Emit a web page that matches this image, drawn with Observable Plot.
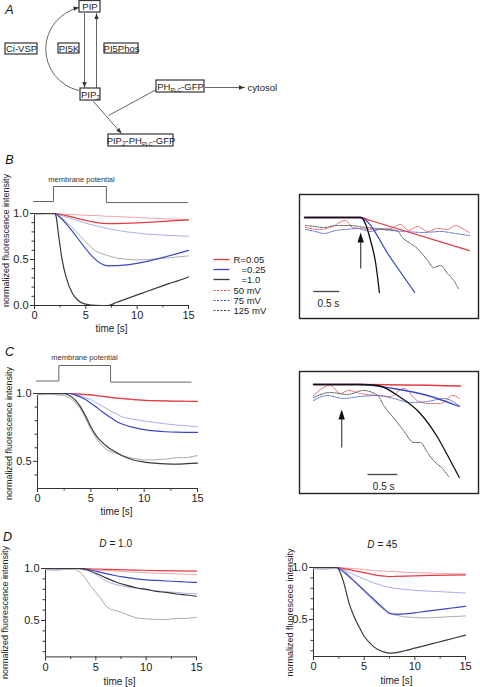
<!DOCTYPE html>
<html><head><meta charset="utf-8">
<script src="https://cdn.jsdelivr.net/npm/d3@7"></script>
<script src="https://cdn.jsdelivr.net/npm/@observablehq/plot@0.6"></script>
<style>
html,body{margin:0;padding:0;background:#fff;}
#fig{position:relative;width:480px;height:687px;overflow:hidden;background:#fff;}
#fig svg{position:absolute;overflow:visible;}
</style></head><body><div id="fig"></div>
<script>
// ===================== DATA =====================
// Panel B (simulation, R values; experiment, mV)
const B_R005_t = [0,2,2.5,7.2,15];
const B_R005_v = [1,1,0.99,0.89,0.93];
const B_R025_t = [0,2,2.3,7.2,15];
const B_R025_v = [1,1,0.975,0.43,0.6];
const B_R10_t = [0,2,2.1,2.35,2.7,3.1,3.7,4.2,4.8,5.5,6.5,7.2,8,9,10,11,12,13,14,15];
const B_R10_v = [1,1,0.97,0.76,0.49,0.3,0.13,0.06,0.02,0.005,0,0,0.035,0.075,0.115,0.155,0.195,0.235,0.27,0.31];
const B_50_t = [0,1,2,3,4,5,6,7,8,9,10,11,12,13,14,15];
const B_50_v = [0.99,1.0,0.998,0.99,0.987,0.98,0.978,0.97,0.968,0.96,0.958,0.95,0.948,0.94,0.938,0.932];
const B_75_t = [0,1,2,3,4,5,6,7,8,9,10,11,12,13,14,15];
const B_75_v = [1.0,0.995,1.0,0.965,0.93,0.895,0.865,0.84,0.818,0.8,0.788,0.775,0.77,0.762,0.758,0.752];
const B_125_t = [0,1,2,2.5,3,3.5,4,4.5,5,5.5,6,6.5,7,7.5,8,9,10,11,12,13,14,15];
const B_125_v = [0.99,1.0,0.995,0.97,0.92,0.865,0.81,0.75,0.69,0.635,0.59,0.565,0.548,0.53,0.515,0.502,0.495,0.5,0.508,0.517,0.528,0.54];
const B_membrane_t = [-0.1,1.85,1.85,7.0,7.0,14.9];
const B_membrane_v = [0,0,1,1,-0.07,-0.07];

// Panel C
const C_R005_t = [0,3,4,5,6,7,8,9,10,11,12,13,14,15];
const C_R005_v = [1,1,0.995,0.99,0.98,0.97,0.962,0.955,0.95,0.947,0.945,0.944,0.943,0.942];
const C_R025_t = [0,3,3.5,4,4.5,5,5.5,6,6.5,7,7.5,8,9,10,11,12,13,15];
const C_R025_v = [1,1,0.99,0.975,0.955,0.928,0.9,0.87,0.842,0.815,0.79,0.773,0.75,0.734,0.724,0.718,0.715,0.713];
const C_R10_t = [0,2.5,3,3.5,4,4.5,5,5.5,6,6.5,7,8,9,10,11,12,13,14,15];
const C_R10_v = [1,1,0.985,0.955,0.905,0.835,0.755,0.69,0.645,0.61,0.583,0.54,0.51,0.495,0.487,0.482,0.48,0.483,0.487];
const C_50_t = [0,1,2,3,4,5,6,7,8,9,10,11,12,13,14,15];
const C_50_v = [0.995,1,0.998,1,0.993,0.987,0.978,0.97,0.962,0.955,0.951,0.946,0.945,0.941,0.943,0.94];
const C_75_t = [0,1,2,3,4,5,6,7,8,9,10,11,12,13,14,15];
const C_75_v = [0.99,0.995,0.99,1,0.985,0.955,0.91,0.865,0.825,0.81,0.797,0.787,0.776,0.768,0.762,0.755];
const C_125_t = [0,1,2,2.5,3,3.5,4,4.5,5,5.5,6,6.5,7,7.5,8,9,10,11,12,13,14,15];
const C_125_v = [0.99,0.995,0.99,0.985,0.97,0.94,0.89,0.82,0.735,0.67,0.62,0.585,0.568,0.555,0.54,0.522,0.51,0.512,0.516,0.527,0.528,0.542];
const C_membrane_t = [-0.1,2.0,2.0,6.85,6.85,14.4];
const C_membrane_v = [0,0,1,1,-0.07,-0.07];

// Panel D, D = 1.0
const D1_R005_t = [0,3,5,7,9,11,13,15];
const D1_R005_v = [1,1,0.995,0.99,0.985,0.98,0.977,0.975];
const D1_R025_t = [0,3.5,4,5,6,7,8,9,10,11,12,13,14,15];
const D1_R025_v = [1,1,0.995,0.975,0.95,0.93,0.915,0.9,0.89,0.885,0.88,0.875,0.87,0.866];
const D1_R10_t = [0,3.5,4,5,6,7,8,9,10,11,12,13,14,15];
const D1_R10_v = [1,1,0.99,0.955,0.91,0.87,0.84,0.815,0.8,0.78,0.77,0.755,0.745,0.733];
const D1_50_t = [0,1,2,3,4,5,6,7,8,9,10,11,12,13,14,15];
const D1_50_v = [0.99,0.995,1,1,0.992,0.985,0.98,0.975,0.968,0.965,0.96,0.955,0.952,0.948,0.945,0.943];
const D1_75_t = [0,1,2,3,4,5,5.5,6,6.5,7,8,9,10,11,12,13,14,15];
const D1_75_v = [0.99,0.985,0.995,1,0.985,0.945,0.91,0.88,0.86,0.845,0.825,0.81,0.795,0.785,0.775,0.77,0.76,0.757];
const D1_125_t = [0,1,2,3,3.5,4,4.5,5,5.5,6,6.5,7,7.5,8,9,10,11,12,13,14,15];
const D1_125_v = [0.99,0.985,0.99,0.99,0.96,0.9,0.83,0.77,0.71,0.64,0.605,0.595,0.58,0.56,0.525,0.515,0.51,0.51,0.52,0.52,0.53];

// Panel D, D = 45
const D45_R005_t = [0,2.3,3,4,5,6,7,7.5,8,10,12,15];
const D45_R005_v = [1,1,0.99,0.97,0.95,0.93,0.917,0.913,0.914,0.92,0.925,0.93];
const D45_R025_t = [0,2.3,2.6,3,4,5,6,7,7.5,8,9,10,11,12,13,14,15];
const D45_R025_v = [1,1,0.985,0.955,0.87,0.78,0.69,0.6,0.56,0.553,0.555,0.565,0.578,0.59,0.603,0.615,0.627];
const D45_R10_t = [0,2.3,2.6,3,3.5,4,4.5,5,5.5,6,6.5,7,7.5,8,9,10,11,12,13,14,15];
const D45_R10_v = [1,1,0.96,0.85,0.66,0.53,0.43,0.34,0.28,0.235,0.205,0.187,0.178,0.18,0.2,0.225,0.25,0.275,0.3,0.325,0.35];
const D45_50_t = [0,1,2,3,4,5,6,7,8,9,10,11,12,13,14,15];
const D45_50_v = [0.99,0.995,1,0.995,0.99,0.98,0.97,0.965,0.96,0.955,0.95,0.948,0.945,0.942,0.94,0.938];
const D45_75_t = [0,1,2,3,4,5,6,7,8,9,10,11,12,13,14,15];
const D45_75_v = [0.99,0.985,0.995,0.98,0.93,0.89,0.85,0.82,0.8,0.79,0.78,0.775,0.77,0.765,0.76,0.755];
const D45_125_t = [0,1,2,2.5,3,3.5,4,5,6,7,7.5,8,9,10,11,12,13,14,15];
const D45_125_v = [0.99,0.985,0.99,0.985,0.97,0.93,0.87,0.77,0.67,0.59,0.56,0.545,0.525,0.52,0.515,0.52,0.525,0.53,0.535];

// Inset B (time in s, zoomed onset)
const IB_R10_t = [0,1.08,1.17,1.27,1.37,1.44];
const IB_R10_v = [1,1,0.988,0.954,0.908,0.85];
const IB_R025_t = [0,1.08,1.13,1.65,2.12];
const IB_R025_v = [1,1,0.998,0.92,0.85];
const IB_R005_t = [0,1.08,1.27,3.17];
const IB_R005_v = [1,1,0.994,0.934];
const IB_50_t = [0.02,0.31,0.5,0.79,0.92,1.08,1.37,1.65,1.85,2.0,2.17,2.37,2.56,2.75,2.9,3.04,3.17];
const IB_50_v = [0.98,0.976,0.98,0.994,0.98,0.978,0.976,0.978,0.986,0.974,0.982,0.972,0.978,0.976,0.984,0.978,0.97];
const IB_75_t = [0.02,0.21,0.37,0.6,0.79,1.02,1.27,1.46,1.65,1.94,2.29,2.62,2.9,3.17];
const IB_75_v = [0.976,0.972,0.968,0.974,0.976,0.978,0.972,0.976,0.974,0.972,0.97,0.972,0.968,0.964];
const IB_125_t = [0.02,0.21,0.37,0.6,0.88,1.17,1.4,1.77,1.9,2.04,2.17,2.37,2.48,2.62,2.75,2.87,2.96];
const IB_125_v = [0.984,0.982,0.98,0.984,0.984,0.98,0.978,0.974,0.958,0.948,0.938,0.914,0.9,0.904,0.888,0.874,0.858];
const IB_arrow = {t: 1.08, tip: 0.97, tail: 0.898};
const IB_bar = {t0: 0.17, v: 0.852, label: "0.5 s", lt: 0.46, lv: 0.828};

// Inset C
const IC_R10_t = [0,0.78,1.07,1.45,1.78,2.07,2.28,2.43];
const IC_R10_v = [1,1,0.998,0.974,0.942,0.894,0.848,0.814];
const IC_R025_t = [0,0.78,1.33,1.9,2.43];
const IC_R025_v = [1,1,0.992,0.978,0.956];
const IC_R005_t = [0,0.78,2.45];
const IC_R005_v = [1,1,0.997];
const IC_50_t = [0,0.28,0.45,0.58,0.78,1.07,1.28,1.5,1.73,1.9,2.12,2.32,2.43];
const IC_50_v = [0.978,0.998,0.982,0.988,0.982,0.978,0.976,0.992,0.968,0.962,0.962,0.978,0.972];
const IC_75_t = [0,0.23,0.5,0.78,1.07,1.33,1.62,1.9,2.17,2.43];
const IC_75_v = [0.968,0.978,0.972,0.976,0.978,0.972,0.964,0.966,0.972,0.958];
const IC_125_t = [0,0.28,0.57,0.83,1.07,1.17,1.33,1.5,1.67,1.78,1.9,2.0,2.15,2.25];
const IC_125_v = [0.974,0.984,0.98,0.988,0.978,0.958,0.934,0.908,0.884,0.884,0.864,0.848,0.832,0.816];
const IC_arrow = {t: 0.47, tip: 0.95, tail: 0.874};
const IC_bar = {t0: 0.9, v: 0.82, label: "0.5 s", lt: 1.17, lv: 0.796};

// Ticks
const xMajor = [0,5,10,15];
const xMinor = [2.5,7.5,12.5];
const B_yMajor = [0,0.5,1];
const B_yMinor = [0.1,0.2,0.3,0.4,0.6,0.7,0.8,0.9];
const C_yMajor = [0.5,1];
const C_yMinor = [0.4,0.6,0.7,0.8,0.9];
const D_yMajor = [0.5,1];
const D_yMinor = [0.2,0.3,0.4,0.6,0.7,0.8,0.9];

// Texts
const yTitle = "normalized fluorescence intensity";
const yTitleD45 = "normalized fluorescece intensity";
const xTitle = "time [s]";
const membraneLabel = "membrane potential";
const panelLetters = ["A","B","C","D"];
const dTitleValues = ["= 1.0", "= 45"];
const legendLabels = ["R=0.05", "=0.25", "=1.0", "50 mV", "75 mV", "125 mV"];
const diagramLabels = ["PIP", "Ci-VSP", "PI5K", "PI5Phos", "PIP_2_", "PH_PLC_-GFP", "PIP_2_-PH_PLC_-GFP"];
const cytosolLabel = "cytosol";

// ===================== STYLE / LAYOUT =====================
const FONT = '"Liberation Sans", Arial, Helvetica, sans-serif';
const RED = "#e23b40", BLUE = "#3a48c4", BLACK = "#3a3a3a";
const LRED = "#f3a4a8", LBLUE = "#a8b0ee", LGRAY = "#acacac";
const IRED = "#e65a5e", IBLUE = "#5566d8", IGRAY = "#555";
const legendColors = [RED, BLUE, BLACK, RED, BLUE, "#444"];
const legendDashed = [false,false,false,true,true,true];
const legendLayout = [[233,259],[241,269],[241,279],[233,290],[233,300],[233,310]];
const letterLayout = [[9,9],[9,159],[9,351],[7,536]];
const yTitleLayout = [[6,240],[9,433],[5,612],[290,612]];
const xTitleLayout = [[111,328],[116,511],[119,681],[396,680]];
const membraneLabelLayout = [[81,179],[84,357.5]];
const dTitleLayout = [[106,543.5,109],[374,544,377]];
const diagramBoxes = [[79,100,0.5,12],[5,37,43,54],[58,79,43,53],[104,138,43,53],[80,100,88,100],[156,204,80,92],[108,173,134,146]];
const diagramArrows = [[84,13,84,87],[96,87,96,13],[93,101,121,133],[205,87,244,87]];
const diagramArc = [78,90,78.5,7];
const diagramArcBend = 77;
const diagramLink = [156,89,108,115];
const cytosolLayout = [247,87];

const fig = document.getElementById("fig");
const pts = (t, v) => t.map((d, i) => ({t: d, v: v[i]}));
const deg = Math.PI / 180;

function place(svg, left, top) {
  svg.style.left = left + "px";
  svg.style.top = top + "px";
  fig.appendChild(svg);
}
const baseStyle = {fontFamily: FONT, fontSize: "11px", background: "transparent", overflow: "visible", color: "#222"};

function mainChart(c) {
  const svg = Plot.plot({
    width: c.width, height: c.height,
    marginLeft: c.x0 - c.left, marginRight: c.left + c.width - c.x1,
    marginTop: c.yTop - c.top, marginBottom: c.top + c.height - c.yBot,
    x: {domain: [0, 15], label: null},
    y: {domain: [c.yMin, 1], label: null},
    style: baseStyle,
    marks: [
      Plot.ruleX([0], {y1: c.yMin, y2: 1, stroke: "#333", strokeWidth: 1}),
      Plot.ruleY([c.yMin], {x1: 0, x2: 15, stroke: "#333", strokeWidth: 1}),
      Plot.axisY({ticks: c.yMajor, tickSize: 4, tickPadding: 2, tickFormat: ".1f", label: null, stroke: "#333"}),
      Plot.axisY({ticks: c.yMinor, tickSize: 2.5, tickFormat: () => "", label: null, stroke: "#333"}),
      Plot.axisX({ticks: xMajor, tickSize: 4, tickPadding: 2, label: null, stroke: "#333"}),
      Plot.axisX({ticks: xMinor, tickSize: 2.5, tickFormat: () => "", label: null, stroke: "#333"}),
      ...c.series.map(s => Plot.line(pts(s[0], s[1]), {x: "t", y: "v", stroke: s[2], strokeWidth: s[3], curve: s[4] || "linear"}))
    ]
  });
  place(svg, c.left, c.top);
}

function membraneChart(c) {
  const svg = Plot.plot({
    width: c.width, height: c.height,
    marginLeft: c.x0 - c.left, marginRight: c.left + c.width - c.x1,
    marginTop: c.yHigh - c.top, marginBottom: c.top + c.height - c.yBase,
    x: {domain: [0, 15], axis: null}, y: {domain: [0, 1], axis: null},
    style: baseStyle,
    marks: [Plot.line(pts(c.t, c.v), {x: "t", y: "v", stroke: "#666", strokeWidth: 1})]
  });
  place(svg, c.left, c.top);
}

function insetChart(c) {
  const lines = c.series.map(s => Plot.line(pts(s[0], s[1]), {x: "t", y: "v", stroke: s[2], strokeWidth: s[3], strokeDasharray: s[4], curve: "monotone-x"}));
  const svg = Plot.plot({
    width: c.width, height: c.height, margin: 0,
    x: {domain: c.xd, axis: null}, y: {domain: c.yd, axis: null},
    style: baseStyle,
    marks: [
      Plot.frame({stroke: "#222", strokeWidth: 1.4}),
      ...lines,
      Plot.link([c.arrow], {x1: "t", x2: "t", y1: "tail", y2: d => d.tip - 0.012, stroke: "#555", strokeWidth: 1.3}),
      Plot.vector([c.arrow], {x: "t", y: "tip", length: 10, r: 3.2, shape: "spike", anchor: "end", fill: "#111", stroke: "none"}),
      Plot.link([c.bar], {x1: "t0", x2: d => d.t0 + 0.5, y1: "v", y2: "v", stroke: "#444", strokeWidth: 1.3}),
      Plot.text([c.bar], {x: "lt", y: "lv", text: "label", fontSize: 10, fill: "#222"})
    ]
  });
  place(svg, c.left, c.top);
}

// ---- Panel B ----
membraneChart({left: 0, top: 180, width: 200, height: 25, x0: 34, x1: 188, yHigh: 186, yBase: 201, t: B_membrane_t, v: B_membrane_v});
mainChart({left: 0, top: 205, width: 200, height: 130, x0: 34, x1: 188, yTop: 213, yBot: 305, yMin: 0,
  yMajor: B_yMajor, yMinor: B_yMinor,
  series: [
    [B_50_t, B_50_v, LRED, 1], [B_75_t, B_75_v, LBLUE, 1], [B_125_t, B_125_v, LGRAY, 1],
    [B_R005_t, B_R005_v, RED, 1.2, "monotone-x"], [B_R025_t, B_R025_v, BLUE, 1.2, "monotone-x"], [B_R10_t, B_R10_v, BLACK, 1.2, "monotone-x"]
  ]});
insetChart({left: 299, top: 194, width: 179, height: 124, xd: [-0.096, 3.346], yd: [0.798, 1.046],
  arrow: IB_arrow, bar: IB_bar,
  series: [
    [IB_50_t, IB_50_v, IRED, 1, "1.3,1.2"], [IB_75_t, IB_75_v, IBLUE, 1, "1.3,1.2"], [IB_125_t, IB_125_v, IGRAY, 1, "1.3,1.2"],
    [IB_R005_t, IB_R005_v, RED, 1.3], [IB_R025_t, IB_R025_v, BLUE, 1.3], [IB_R10_t, IB_R10_v, "#111", 1.3]
  ]});

// ---- Panel C ----
membraneChart({left: 0, top: 360, width: 205, height: 25, x0: 37, x1: 197, yHigh: 365, yBase: 380.5, t: C_membrane_t, v: C_membrane_v});
mainChart({left: 0, top: 385, width: 205, height: 120, x0: 37, x1: 197, yTop: 393, yBot: 488, yMin: 0.3,
  yMajor: C_yMajor, yMinor: C_yMinor,
  series: [
    [C_50_t, C_50_v, LRED, 1], [C_75_t, C_75_v, LBLUE, 1], [C_125_t, C_125_v, LGRAY, 1],
    [C_R005_t, C_R005_v, RED, 1.2, "monotone-x"], [C_R025_t, C_R025_v, BLUE, 1.2, "monotone-x"], [C_R10_t, C_R10_v, BLACK, 1.2, "monotone-x"]
  ]});
insetChart({left: 299, top: 371, width: 179, height: 122, xd: [-0.233, 2.75], yd: [0.782, 1.026],
  arrow: IC_arrow, bar: IC_bar,
  series: [
    [IC_50_t, IC_50_v, IRED, 1, "1.3,1.2"], [IC_75_t, IC_75_v, IBLUE, 1, "1.3,1.2"], [IC_125_t, IC_125_v, IGRAY, 1, "1.3,1.2"],
    [IC_R005_t, IC_R005_v, RED, 1.3], [IC_R025_t, IC_R025_v, BLUE, 1.3], [IC_R10_t, IC_R10_v, "#111", 1.3]
  ]});

// ---- Panel D ----
mainChart({left: 0, top: 560, width: 205, height: 127, x0: 45, x1: 196, yTop: 568, yBot: 656.4, yMin: 0.15,
  yMajor: D_yMajor, yMinor: D_yMinor,
  series: [
    [D1_50_t, D1_50_v, LRED, 1], [D1_75_t, D1_75_v, LBLUE, 1], [D1_125_t, D1_125_v, LGRAY, 1],
    [D1_R005_t, D1_R005_v, RED, 1.2, "monotone-x"], [D1_R025_t, D1_R025_v, BLUE, 1.2, "monotone-x"], [D1_R10_t, D1_R10_v, BLACK, 1.2, "monotone-x"]
  ]});
mainChart({left: 265, top: 560, width: 215, height: 127, x0: 313, x1: 465, yTop: 567, yBot: 656, yMin: 0.145,
  yMajor: D_yMajor, yMinor: D_yMinor,
  series: [
    [D45_50_t, D45_50_v, LRED, 1], [D45_75_t, D45_75_v, LBLUE, 1], [D45_125_t, D45_125_v, LGRAY, 1],
    [D45_R005_t, D45_R005_v, RED, 1.2, "monotone-x"], [D45_R025_t, D45_R025_v, BLUE, 1.2, "monotone-x"], [D45_R10_t, D45_R10_v, BLACK, 1.2, "monotone-x"]
  ]});

// ---- Overlay: diagram, letters, titles, legend ----
const boxes = diagramBoxes.map((b, i) => ({x1: b[0], x2: b[1], y1: b[2], y2: b[3], label: diagramLabels[i], cx: (b[0] + b[1]) / 2, cy: (b[2] + b[3]) / 2}));
const arrows = diagramArrows.map(a => ({x1: a[0], y1: a[1], x2: a[2], y2: a[3]}));
const arc = {x1: diagramArc[0], y1: diagramArc[1], x2: diagramArc[2], y2: diagramArc[3]};
const heads = arrows.map(a => ({x: a.x2, y: a.y2, angle: Math.atan2(a.x2 - a.x1, -(a.y2 - a.y1)) / deg}))
  .concat([{x: arc.x2, y: arc.y2, angle: Math.atan2(arc.x2 - arc.x1, -(arc.y2 - arc.y1)) / deg + diagramArcBend}]);
const legendRows = legendLabels.map((l, i) => ({label: l, x: legendLayout[i][0], y: legendLayout[i][1], color: legendColors[i], dashed: legendDashed[i]}));
const yTitles = yTitleLayout.map((p, i) => ({x: p[0], y: p[1], label: i === 3 ? yTitleD45 : yTitle}));

const overlay = Plot.plot({
  width: 480, height: 687, margin: 0,
  x: {domain: [0, 480], axis: null}, y: {domain: [687, 0], axis: null},
  style: baseStyle,
  marks: [
    // diagram
    Plot.arrow([arc], {x1: "x1", y1: "y1", x2: "x2", y2: "y2", bend: diagramArcBend, headLength: 0, stroke: "#555", strokeWidth: 0.9}),
    Plot.arrow(arrows, {x1: "x1", y1: "y1", x2: "x2", y2: "y2", headLength: 0, stroke: "#555", strokeWidth: 0.9}),
    Plot.vector(heads, {x: "x", y: "y", rotate: "angle", length: 5.5, r: 2.2, shape: "spike", anchor: "end", fill: "#333", stroke: "none"}),
    Plot.link([{x1: diagramLink[0], y1: diagramLink[1], x2: diagramLink[2], y2: diagramLink[3]}], {x1: "x1", y1: "y1", x2: "x2", y2: "y2", stroke: "#555", strokeWidth: 0.9}),
    Plot.rect(boxes, {x1: "x1", x2: "x2", y1: "y1", y2: "y2", fill: "white", stroke: "#333", strokeWidth: 1.2}),
    Plot.text(boxes, {x: "cx", y: "cy", text: "label", fontSize: 9.5, fill: "#222"}),
    Plot.text([cytosolLabel], {x: cytosolLayout[0], y: cytosolLayout[1], text: d => d, textAnchor: "start", fontSize: 9.5, fill: "#222"}),
    // panel letters
    Plot.text(panelLetters.map((l, i) => ({l, x: letterLayout[i][0], y: letterLayout[i][1]})), {x: "x", y: "y", text: "l", fontSize: 12.5, fontStyle: "italic", fill: "#111"}),
    // y titles
    Plot.text(yTitles, {x: "x", y: "y", text: "label", rotate: -90, fontSize: 9, fill: "#222"}),
    // x titles
    Plot.text(xTitleLayout.map(p => ({x: p[0], y: p[1]})), {x: "x", y: "y", text: () => xTitle, fontSize: 10, fill: "#222"}),
    // membrane potential labels
    Plot.text(membraneLabelLayout.map(p => ({x: p[0], y: p[1]})), {x: "x", y: "y", text: () => membraneLabel, fontSize: 7.5, fill: "#333"}),
    // D titles
    Plot.text(dTitleLayout.map(p => ({x: p[0], y: p[1]})), {x: "x", y: "y", text: () => "D", textAnchor: "end", fontStyle: "italic", fontSize: 10, fill: "#222"}),
    Plot.text(dTitleLayout.map((p, i) => ({x: p[2], y: p[1], s: dTitleValues[i]})), {x: "x", y: "y", text: "s", textAnchor: "start", fontSize: 10, fill: "#222"}),
    // legend
    Plot.link(legendRows.filter(d => !d.dashed), {x1: () => 213, x2: () => 229, y1: "y", y2: "y", stroke: "color", strokeWidth: 1.3}),
    Plot.link(legendRows.filter(d => d.dashed), {x1: () => 213, x2: () => 229, y1: "y", y2: "y", stroke: "color", strokeWidth: 1, strokeDasharray: "2,1.5"}),
    Plot.text(legendRows, {x: "x", y: "y", text: "label", textAnchor: "start", fontSize: 9.5, fill: "#222"})
  ]
});
// subscripts in diagram labels (text between underscores)
overlay.querySelectorAll("text").forEach(el => {
  const s = el.textContent;
  if (!s.includes("_")) return;
  const parts = s.split("_");
  el.textContent = "";
  let shifted = false;
  parts.forEach((p, i) => {
    if (!p) return;
    const ts = document.createElementNS("http://www.w3.org/2000/svg", "tspan");
    ts.textContent = p;
    if (i % 2) { ts.setAttribute("font-size", p.length > 1 ? "5.5" : "6.5"); ts.setAttribute("dy", "2"); shifted = true; }
    else if (shifted) { ts.setAttribute("dy", "-2"); shifted = false; }
    el.appendChild(ts);
  });
});
place(overlay, 0, 0);
</script></body></html>
